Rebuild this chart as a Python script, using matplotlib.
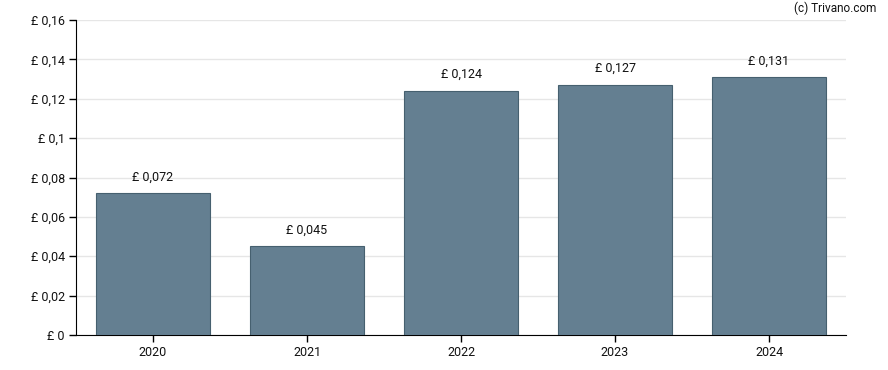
import matplotlib.pyplot as plt
import numpy as np

years = ["2020", "2021", "2022", "2023", "2024"]
values = [0.072, 0.045, 0.124, 0.127, 0.131]
labels = ["£ 0,072", "£ 0,045", "£ 0,124", "£ 0,127", "£ 0,131"]
yticks = [0, 0.02, 0.04, 0.06, 0.08, 0.1, 0.12, 0.14, 0.16]
ytick_labels = ["£ 0", "£ 0,02", "£ 0,04", "£ 0,06", "£ 0,08", "£ 0,1", "£ 0,12", "£ 0,14", "£ 0,16"]

plt.rcParams['font.family'] = ['Roboto', 'DejaVu Sans']

fig = plt.figure(figsize=(8.88, 3.70), dpi=100)
ax = fig.add_axes([76 / 888, 35 / 370, 770 / 888, 315 / 370])

x = np.arange(len(years))
ax.bar(x, values, width=0.74, color="#647f91", edgecolor="#46606f", linewidth=0.8, zorder=3)

for xi, v, lab in zip(x, values, labels):
    ax.annotate(lab, (xi, v), xytext=(0, 7), textcoords="offset points",
                ha="center", va="bottom", fontsize=9, color="#111111")

ax.set_xlim(-0.5, len(years) - 0.5)
ax.set_ylim(0, 0.16)
ax.set_xticks(x)
ax.set_xticklabels(years, fontsize=9)
ax.set_yticks(yticks)
ax.set_yticklabels(ytick_labels, fontsize=9)
ax.grid(axis="y", color="#e6e6e6", linewidth=1, zorder=0)
ax.spines["top"].set_visible(False)
ax.spines["right"].set_visible(False)
ax.spines["left"].set_color("black")
ax.spines["bottom"].set_color("black")
ax.tick_params(axis="both", length=5, width=1, color="black", labelcolor="#111111", pad=3)

fig.text(876 / 888, 1 - 8 / 370, "(c) Trivano.com", ha="right", va="center", fontsize=8.5, color="#111111")

plt.savefig("out.png", dpi=100)
